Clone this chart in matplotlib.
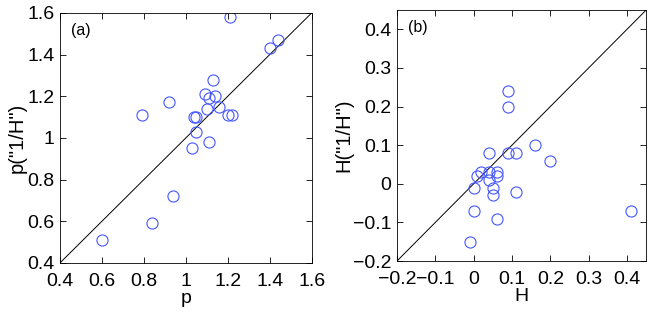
import matplotlib
matplotlib.use("Agg")
import matplotlib.pyplot as plt
import numpy as np

plt.rcParams['font.family'] = ['Liberation Sans', 'DejaVu Sans']

# panel (a): p vs p("1/H")
p_x = [1.21, 1.44, 1.40, 1.13, 1.09, 1.11, 1.14, 0.92, 0.79, 1.10, 1.16,
       1.20, 1.22, 1.04, 1.05, 1.05, 1.03, 1.11, 0.94, 0.84, 0.60]
p_y = [1.58, 1.47, 1.43, 1.28, 1.21, 1.19, 1.20, 1.17, 1.11, 1.14, 1.15,
       1.11, 1.11, 1.10, 1.10, 1.03, 0.95, 0.98, 0.72, 0.59, 0.51]

# panel (b): H vs H("1/H")
h_x = [0.09, 0.09, 0.16, 0.20, 0.04, 0.09, 0.11, 0.02, 0.01, 0.04, 0.06,
       0.06, 0.04, 0.00, 0.05, 0.05, 0.11, 0.00, 0.06, -0.01, 0.41]
h_y = [0.24, 0.20, 0.10, 0.06, 0.08, 0.08, 0.08, 0.03, 0.02, 0.03, 0.03,
       0.02, 0.01, -0.01, -0.01, -0.03, -0.02, -0.07, -0.09, -0.15, -0.07]

p_lim = [0.4, 1.6]
p_ticks = [0.4, 0.6, 0.8, 1.0, 1.2, 1.4, 1.6]
p_labels = ["0.4", "0.6", "0.8", "1", "1.2", "1.4", "1.6"]
h_lim = [-0.2, 0.45]
h_ticks = [-0.2, -0.1, 0, 0.1, 0.2, 0.3, 0.4]
h_labels = ["\u22120.2", "\u22120.1", "0", "0.1", "0.2", "0.3", "0.4"]

fig = plt.figure(figsize=(6.54, 3.13), dpi=100)
ax1 = fig.add_axes([0.0917, 0.16, 0.385, 0.799])
ax2 = fig.add_axes([0.607, 0.166, 0.381, 0.802])

panels = [
    (ax1, p_x, p_y, p_lim, p_ticks, p_labels, "p", 'p("1/H")', "(a)"),
    (ax2, h_x, h_y, h_lim, h_ticks, h_labels, "H", 'H("1/H")', "(b)"),
]

for ax, xs, ys, lim, ticks, labels, xl, yl, tag in panels:
    ax.plot(lim, lim, color="black", lw=0.7)
    ax.plot(xs, ys, "o", mfc="none", mec="#4455ff", ms=8, mew=0.8)
    ax.set_xlim(lim)
    ax.set_ylim(lim)
    ax.set_xticks(ticks)
    ax.set_xticklabels(labels)
    ax.set_yticks(ticks)
    ax.set_yticklabels(labels)
    ax.tick_params(direction="in", top=True, right=True, length=4,
                   width=0.6, labelsize=14, pad=4)
    ax.tick_params(axis="x", pad=7)
    ax.set_xlabel(xl, fontsize=14, labelpad=0)
    ax.set_ylabel(yl, fontsize=14.5, labelpad=0)
    for s in ax.spines.values():
        s.set_linewidth(0.6)
    ax.text(0.045, 0.93, tag, transform=ax.transAxes, fontsize=11.5,
            ha="left", va="center")

fig.savefig("out.png", dpi=100)
